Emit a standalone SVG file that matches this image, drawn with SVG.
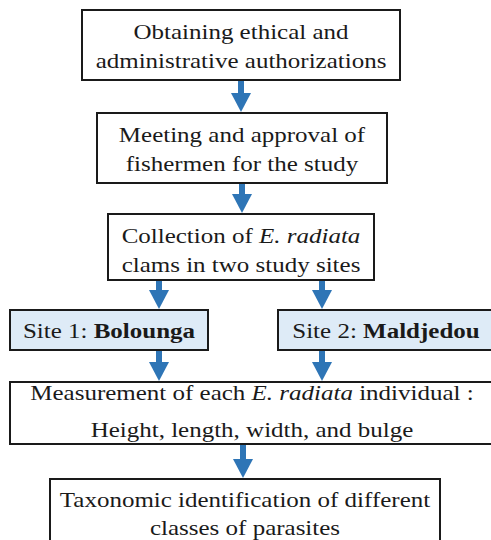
<svg xmlns="http://www.w3.org/2000/svg" width="491" height="540" viewBox="0 0 491 540">
<style>
.box{fill:#ffffff;stroke:#1a1a1a;stroke-width:2}
.site{fill:#deebf7;stroke:#1a1a1a;stroke-width:2}
text{font-family:"Liberation Serif","Times New Roman",serif;font-size:25px;fill:#1a1a1a;text-anchor:middle}
.i{font-style:italic}
.b{font-weight:bold}
.arr{stroke:#2e75b6;stroke-width:6;fill:none;marker-end:url(#ah)}
</style>
<defs>
<marker id="ah" markerUnits="userSpaceOnUse" markerWidth="20" markerHeight="20" viewBox="0 0 19 20" refX="0" refY="10" orient="auto">
<path d="M0,0 L19,10 L0,20 Z" fill="#2e75b6"/>
</marker>
</defs>
<rect width="491" height="540" fill="#ffffff"/>
<g id="connectors">
<line class="arr" x1="241" y1="81" x2="241" y2="93"/>
<line class="arr" x1="242" y1="184" x2="242" y2="194"/>
<line class="arr" x1="159" y1="281" x2="159" y2="290"/>
<line class="arr" x1="322" y1="281" x2="322" y2="290"/>
<line class="arr" x1="159" y1="351" x2="159" y2="362"/>
<line class="arr" x1="322" y1="351" x2="322" y2="362"/>
<line class="arr" x1="243" y1="445" x2="243" y2="459"/>
</g>
<g id="n1">
<rect class="box" x="82" y="10" width="318" height="70"/>
<text x="241" y="0" transform="translate(0,39) scale(1,0.85)">Obtaining ethical and</text>
<text x="241" y="0" transform="translate(0,68) scale(1,0.85)">administrative authorizations</text>
</g>
<g id="n2">
<rect class="box" x="97" y="113" width="290" height="70"/>
<text x="242" y="0" transform="translate(0,142) scale(1,0.85)">Meeting and approval of</text>
<text x="242" y="0" transform="translate(0,171) scale(1,0.85)">fishermen for the study</text>
</g>
<g id="n3">
<rect class="box" x="108" y="214" width="266" height="66"/>
<text x="241" y="0" transform="translate(0,243) scale(1,0.85)">Collection of <tspan class="i">E. radiata</tspan></text>
<text x="241" y="0" transform="translate(0,272) scale(1,0.85)">clams in two study sites</text>
</g>
<g id="site1">
<rect class="site" x="10" y="310" width="198" height="40"/>
<text x="109" y="0" transform="translate(0,338) scale(1,0.85)">Site 1: <tspan class="b">Bolounga</tspan></text>
</g>
<g id="site2">
<rect class="site" x="278" y="310" width="216" height="40"/>
<text x="386" y="0" transform="translate(0,338) scale(1,0.85)">Site 2: <tspan class="b">Maldjedou</tspan></text>
</g>
<g id="n4">
<rect class="box" x="10" y="382" width="484" height="62"/>
<text x="252" y="0" transform="translate(0,400) scale(1,0.85)">Measurement of each <tspan class="i">E. radiata</tspan> individual :</text>
<text x="252" y="0" transform="translate(0,437) scale(1,0.85)">Height, length, width, and bulge</text>
</g>
<g id="n5">
<rect class="box" x="50" y="479" width="390" height="70"/>
<text x="245" y="0" transform="translate(0,507) scale(1,0.85)">Taxonomic identification of different</text>
<text x="245" y="0" transform="translate(0,535) scale(1,0.85)">classes of parasites</text>
</g>
</svg>
